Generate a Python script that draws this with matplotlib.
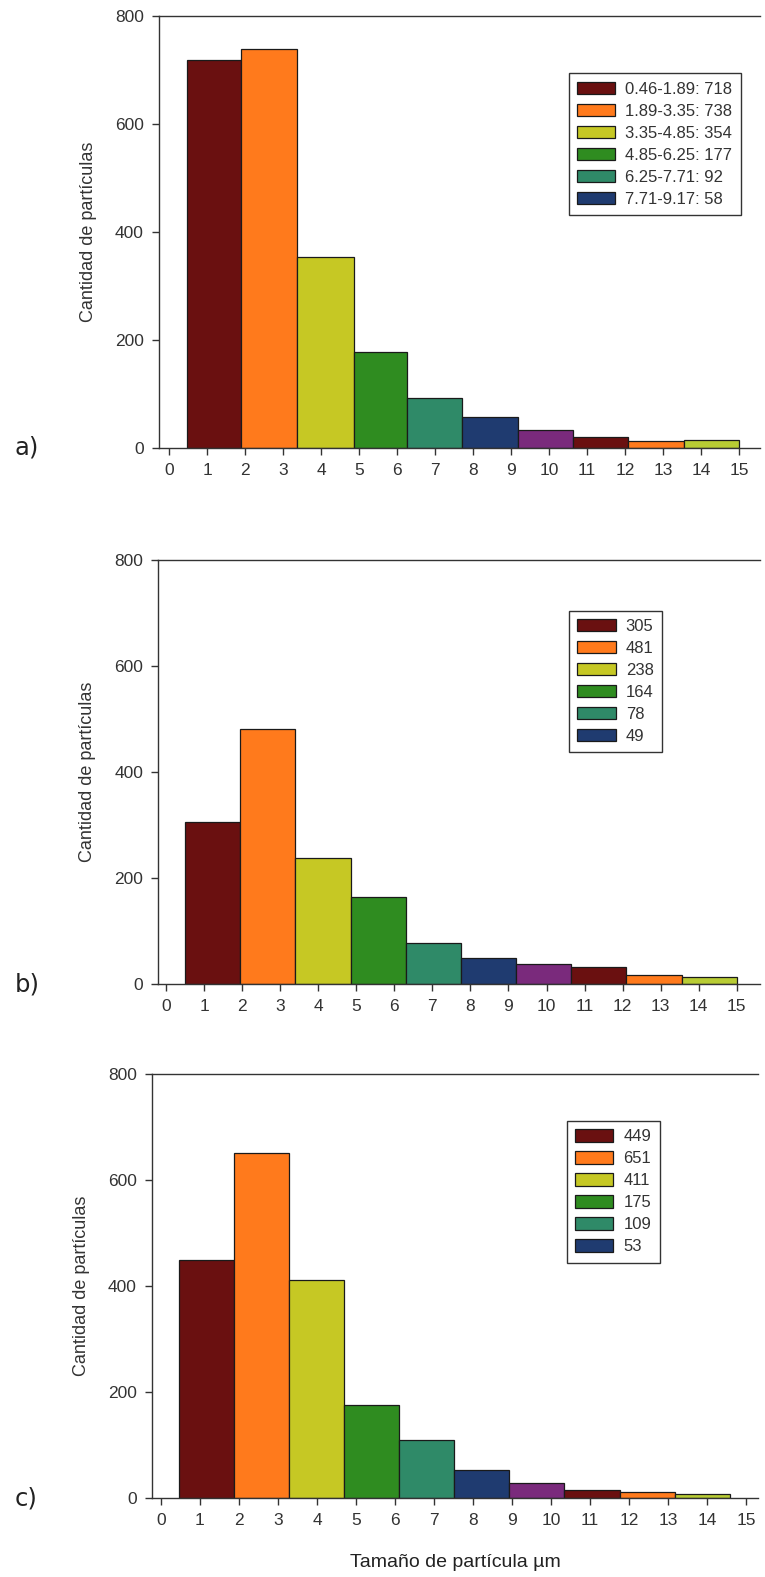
import matplotlib
matplotlib.use('Agg')
import matplotlib.pyplot as plt
from matplotlib.patches import Patch

plt.rcParams['font.family'] = ['Liberation Sans', 'DejaVu Sans']

# bin edges (um) and counts
edges_a = [0.46, 1.89, 3.35, 4.85, 6.25, 7.71, 9.17, 10.63, 12.08, 13.54, 15.00]
counts_a = [718, 738, 354, 177, 92, 58, 34, 20, 12, 15]
legend_a = ['0.46-1.89: 718', '1.89-3.35: 738', '3.35-4.85: 354',
            '4.85-6.25: 177', '6.25-7.71: 92', '7.71-9.17: 58']

edges_b = [0.50, 1.95, 3.40, 4.85, 6.30, 7.75, 9.20, 10.65, 12.10, 13.55, 15.00]
counts_b = [305, 481, 238, 164, 78, 49, 38, 33, 17, 14]
legend_b = ['305', '481', '238', '164', '78', '49']

edges_c = [0.47, 1.88, 3.29, 4.70, 6.11, 7.52, 8.93, 10.34, 11.75, 13.16, 14.57]
counts_c = [449, 651, 411, 175, 109, 53, 28, 16, 11, 8]
legend_c = ['449', '651', '411', '175', '109', '53']

colors = ['#6a1010', '#ff7a1c', '#c6c824', '#2f8c20', '#2f8a68', '#1f3b70',
          '#7a2a7c', '#6a1010', '#ff7a1c', '#b8cc34']

yticks = [0, 200, 400, 600, 800]
xticks = list(range(16))

fig = plt.figure(figsize=(7.65, 15.77), dpi=100)

panels = [
    # rect, edges, counts, legend, tag, xlim, legend anchor
    ([0.208, 0.716, 0.785, 0.274], edges_a, counts_a, legend_a, 'a)', (-0.27, 15.54), (0.682, 0.867)),
    ([0.207, 0.376, 0.786, 0.269], edges_b, counts_b, legend_b, 'b)', (-0.20, 15.60), (0.683, 0.880)),
    ([0.199, 0.050, 0.792, 0.269], edges_c, counts_c, legend_c, 'c)', (-0.22, 15.30), (0.684, 0.889)),
]

for rect, edges, counts, labels, tag, xlim, anchor in panels:
    ax = fig.add_axes(rect)
    lefts = edges[:-1]
    widths = [edges[i + 1] - edges[i] for i in range(len(counts))]
    ax.bar(lefts, counts, width=widths, align='edge', color=colors,
           edgecolor='#1a1a1a', linewidth=0.9)
    ax.set_xlim(*xlim)
    ax.set_ylim(0, 800)
    ax.set_xticks(xticks)
    ax.set_yticks(yticks)
    ax.tick_params(direction='out', length=5, width=1, labelsize=12.5,
                   colors='#333333', pad=6)
    ax.spines['right'].set_visible(False)
    for s in ['left', 'top', 'bottom']:
        ax.spines[s].set_color('#333333')
        ax.spines[s].set_linewidth(1)
    ax.set_ylabel('Cantidad de partículas', fontsize=13, color='#333333',
                  labelpad=13)

    handles = [Patch(facecolor=colors[i], edgecolor='#1a1a1a', linewidth=0.9)
               for i in range(len(labels))]
    leg = ax.legend(handles, labels, loc='upper left', bbox_to_anchor=anchor,
                    borderaxespad=0, fancybox=False, fontsize=12,
                    handlelength=2.3, handleheight=0.75, handletextpad=0.6,
                    labelspacing=0.42, borderpad=0.5, framealpha=1)
    leg.get_frame().set_edgecolor('#333333')
    leg.get_frame().set_linewidth(1)
    for t in leg.get_texts():
        t.set_color('#333333')

    fig.text(0.019, rect[1], tag, fontsize=17.5, family='DejaVu Sans',
             color='#222222', va='center', ha='left')

fig.text(0.595, 0.009, 'Tamaño de partícula µm', fontsize=14,
         color='#222222', ha='center', va='center')

fig.savefig('out.png', dpi=100, facecolor='white')
